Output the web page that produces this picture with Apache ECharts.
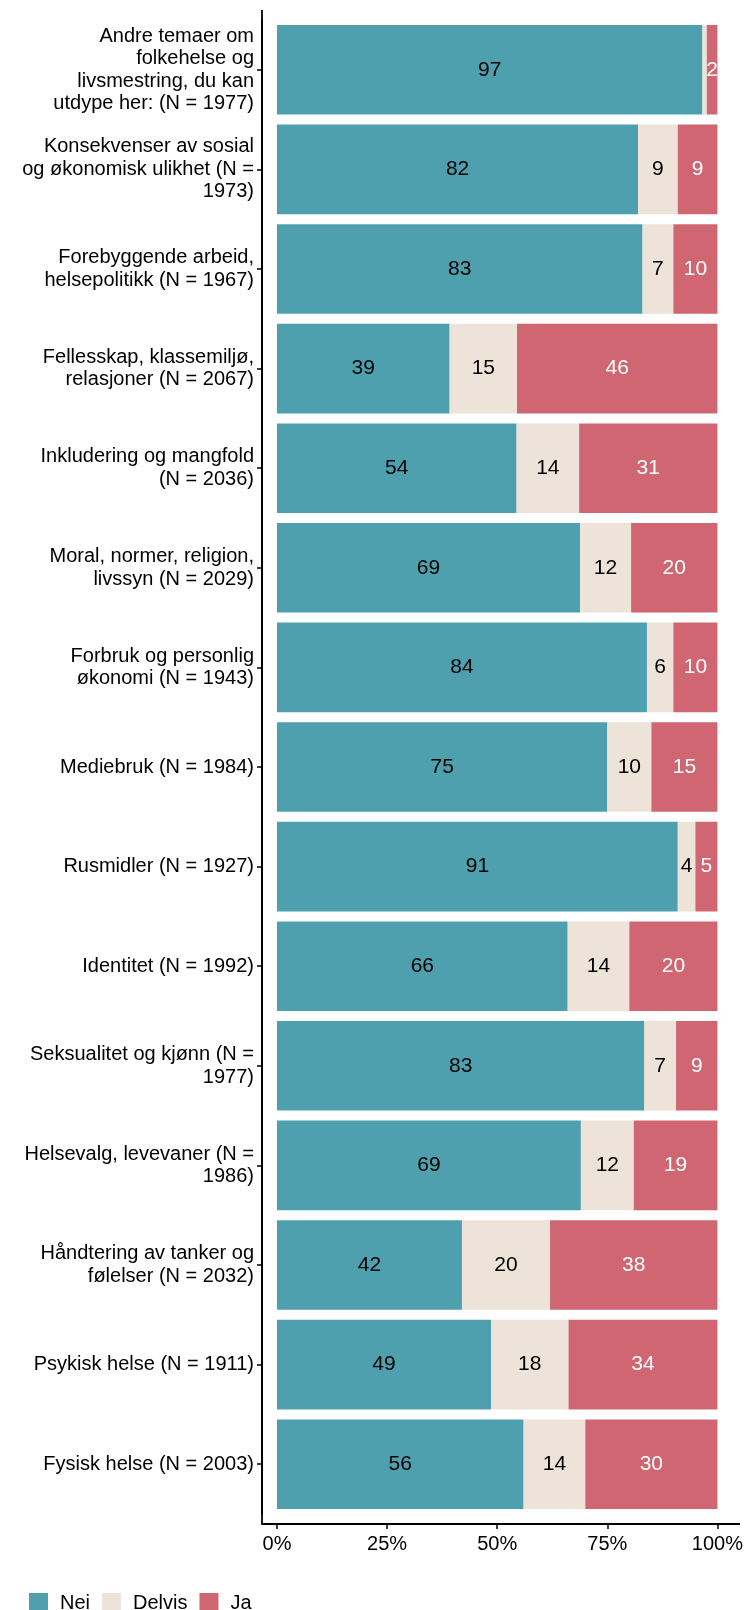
<!DOCTYPE html>
<html>
<head>
<meta charset="utf-8">
<script src="https://cdn.jsdelivr.net/npm/echarts@6/dist/echarts.min.js"></script>
<style>
  html, body { margin: 0; padding: 0; background: #fff; }
  #chart { width: 746px; height: 1610px; }
</style>
</head>
<body>
<div id="chart"></div>
<script>
// topics, top to bottom
var topics = [
  'Andre temaer om\nfolkehelse og\nlivsmestring, du kan\nutdype her: (N = 1977)',
  'Konsekvenser av sosial\nog økonomisk ulikhet (N =\n1973)',
  'Forebyggende arbeid,\nhelsepolitikk (N = 1967)',
  'Fellesskap, klassemiljø,\nrelasjoner (N = 2067)',
  'Inkludering og mangfold\n(N = 2036)',
  'Moral, normer, religion,\nlivssyn (N = 2029)',
  'Forbruk og personlig\nøkonomi (N = 1943)',
  'Mediebruk (N = 1984)',
  'Rusmidler (N = 1927)',
  'Identitet (N = 1992)',
  'Seksualitet og kjønn (N =\n1977)',
  'Helsevalg, levevaner (N =\n1986)',
  'Håndtering av tanker og\nfølelser (N = 2032)',
  'Psykisk helse (N = 1911)',
  'Fysisk helse (N = 2003)'
]
// percent per answer
var nei    = [96.6, 82, 83, 39.2, 54.4, 68.8, 84, 75, 91, 66, 83.4, 69, 42, 48.6, 56]
var delvis = [1.0, 9, 7, 15.3, 14.2, 11.6, 6, 10, 4, 14, 7.2, 12, 20, 17.6, 14]
var ja     = [2.4, 9, 10, 45.5, 31.4, 19.6, 10, 15, 5, 20, 9.4, 19, 38, 33.8, 30]
var xTicks = [0, 25, 50, 75, 100]

var font = "'Liberation Sans', Arial, sans-serif"
var colors = ['#4fa0af', '#eee3d8', '#d06672']

function seg(name, data, color, textColor) {
  return {
    name: name,
    type: 'bar',
    stack: 'all',
    barCategoryGap: '10%',
    data: data,
    itemStyle: { color: color },
    label: {
      show: true,
      position: 'inside',
      color: textColor,
      fontFamily: font,
      fontSize: 21,
      formatter: function (p) {
        return p.value >= 1.5 ? Math.round(p.value) : ''
      }
    },
    emphasis: { disabled: true }
  }
}

var chart = echarts.init(document.getElementById('chart'))
chart.setOption({
  animation: false,
  backgroundColor: '#fff',
  textStyle: { fontFamily: font },
  grid: { left: 262, right: 6, top: 20, bottom: 96 },
  legend: {
    left: 24,
    top: 1588,
    icon: 'rect',
    itemWidth: 19,
    itemHeight: 20,
    itemGap: 12,
    selectedMode: false,
    textStyle: { fontFamily: font, fontSize: 20, color: '#000', padding: [0, 0, 0, 7] },
    data: ['Nei', 'Delvis', 'Ja']
  },
  xAxis: {
    type: 'value',
    // ggplot style padding round 0..100
    min: -3.4,
    max: 104.8,
    offset: 10,
    axisLine: { show: true, onZero: false, lineStyle: { color: '#000', width: 1.8 } },
    axisTick: { show: true, length: 5, customValues: xTicks, lineStyle: { color: '#000', width: 1.5 } },
    splitLine: { show: false },
    axisLabel: { fontSize: 20, color: '#000', margin: 10, customValues: xTicks, formatter: '{value}%' }
  },
  yAxis: {
    type: 'category',
    inverse: true,
    data: topics,
    axisLine: { show: true, onZero: false, lineStyle: { color: '#000', width: 1.8 } },
    axisTick: { show: true, alignWithLabel: true, length: 5, lineStyle: { color: '#000', width: 1.5 } },
    axisLabel: { fontSize: 20, lineHeight: 22.5, color: '#000', margin: 8, align: 'right' }
  },
  graphic: [
    { type: 'line', shape: { x1: 262, y1: 10, x2: 262, y2: 1524 }, style: { stroke: '#000', lineWidth: 1.8 } },
    { type: 'line', shape: { x1: 262, y1: 1524, x2: 740, y2: 1524 }, style: { stroke: '#000', lineWidth: 1.8 } }
  ],
  series: [
    seg('Nei', nei, colors[0], '#000'),
    seg('Delvis', delvis, colors[1], '#000'),
    seg('Ja', ja, colors[2], '#fff')
  ]
})
</script>
</body>
</html>
